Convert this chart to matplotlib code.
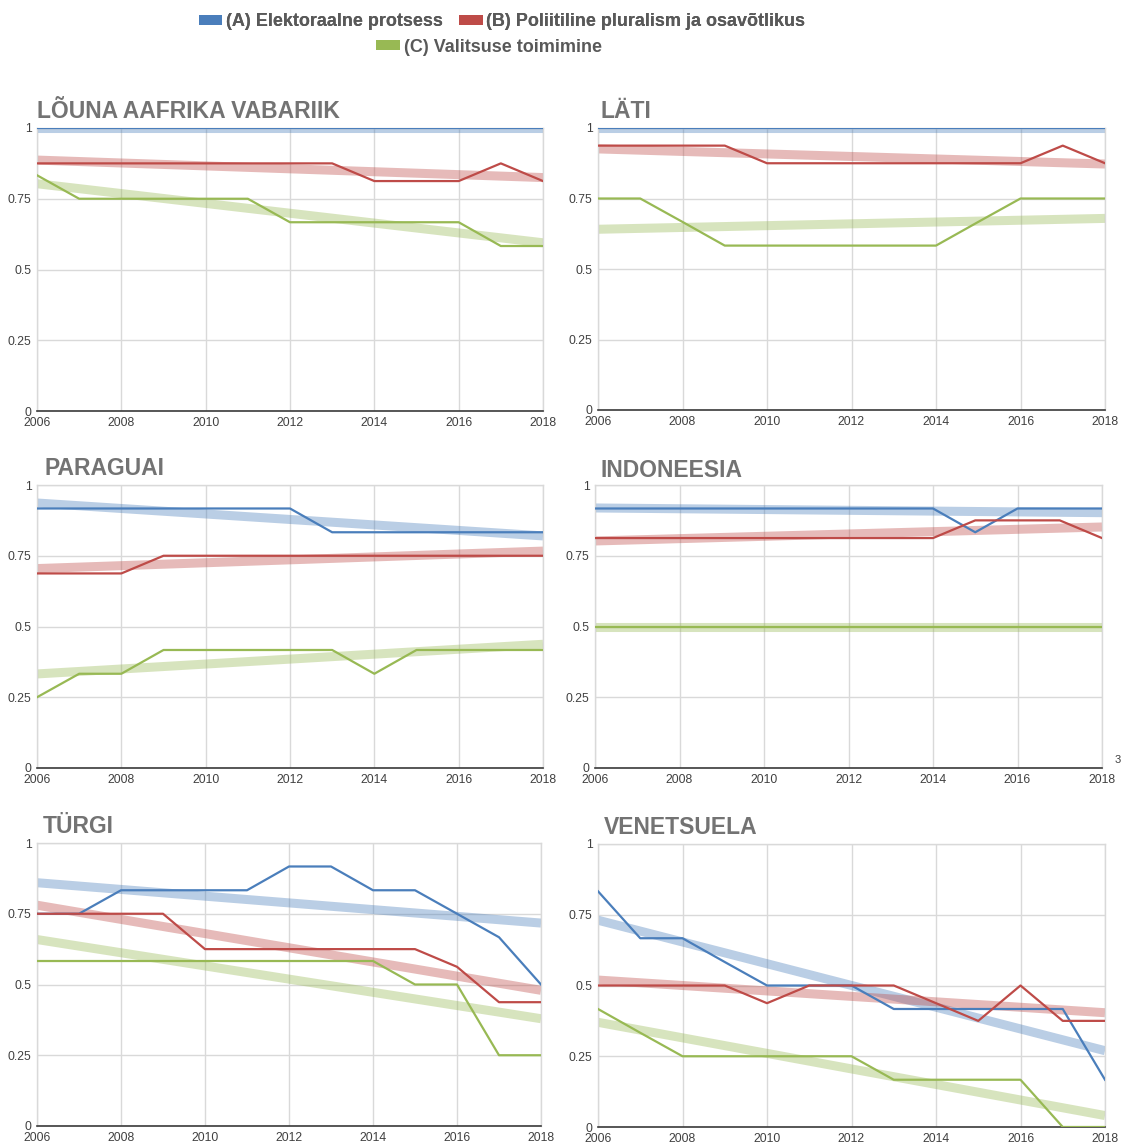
import matplotlib
matplotlib.use("Agg")
import matplotlib.pyplot as plt
from matplotlib.patches import Patch
from matplotlib import font_manager
import numpy as np

# ---------------- data ----------------
years = [2006, 2007, 2008, 2009, 2010, 2011, 2012, 2013, 2014, 2015, 2016, 2017, 2018]
x_ticks = [2006, 2008, 2010, 2012, 2014, 2016, 2018]
y_ticks = [0, 0.25, 0.5, 0.75, 1]
y_tick_labels = ["0", "0.25", "0.5", "0.75", "1"]

series_names = ["(A) Elektoraalne protsess", "(B) Poliitiline pluralism ja osavõtlikus",
                "(C) Valitsuse toimimine"]
countries = ["LÕUNA AAFRIKA VABARIIK", "LÄTI", "PARAGUAI", "INDONEESIA", "TÜRGI", "VENETSUELA"]

za_a = [1, 1, 1, 1, 1, 1, 1, 1, 1, 1, 1, 1, 1]
za_b = [0.875, 0.875, 0.875, 0.875, 0.875, 0.875, 0.875, 0.875, 0.8125, 0.8125, 0.8125, 0.875, 0.8125]
za_c = [0.833, 0.75, 0.75, 0.75, 0.75, 0.75, 0.667, 0.667, 0.667, 0.667, 0.667, 0.583, 0.583]

lv_a = [1, 1, 1, 1, 1, 1, 1, 1, 1, 1, 1, 1, 1]
lv_b = [0.9375, 0.9375, 0.9375, 0.9375, 0.875, 0.875, 0.875, 0.875, 0.875, 0.875, 0.875, 0.9375, 0.875]
lv_c = [0.75, 0.75, 0.667, 0.583, 0.583, 0.583, 0.583, 0.583, 0.583, 0.667, 0.75, 0.75, 0.75]

py_a = [0.917, 0.917, 0.917, 0.917, 0.917, 0.917, 0.917, 0.833, 0.833, 0.833, 0.833, 0.833, 0.833]
py_b = [0.6875, 0.6875, 0.6875, 0.75, 0.75, 0.75, 0.75, 0.75, 0.75, 0.75, 0.75, 0.75, 0.75]
py_c = [0.25, 0.333, 0.333, 0.417, 0.417, 0.417, 0.417, 0.417, 0.333, 0.417, 0.417, 0.417, 0.417]

id_a = [0.917, 0.917, 0.917, 0.917, 0.917, 0.917, 0.917, 0.917, 0.917, 0.833, 0.917, 0.917, 0.917]
id_b = [0.8125, 0.8125, 0.8125, 0.8125, 0.8125, 0.8125, 0.8125, 0.8125, 0.8125, 0.875, 0.875, 0.875, 0.8125]
id_c = [0.5, 0.5, 0.5, 0.5, 0.5, 0.5, 0.5, 0.5, 0.5, 0.5, 0.5, 0.5, 0.5]

tr_a = [0.75, 0.75, 0.833, 0.833, 0.833, 0.833, 0.917, 0.917, 0.833, 0.833, 0.75, 0.667, 0.5]
tr_b = [0.75, 0.75, 0.75, 0.75, 0.625, 0.625, 0.625, 0.625, 0.625, 0.625, 0.5625, 0.4375, 0.4375]
tr_c = [0.583, 0.583, 0.583, 0.583, 0.583, 0.583, 0.583, 0.583, 0.583, 0.5, 0.5, 0.25, 0.25]

ve_a = [0.833, 0.667, 0.667, 0.583, 0.5, 0.5, 0.5, 0.417, 0.417, 0.417, 0.417, 0.417, 0.167]
ve_b = [0.5, 0.5, 0.5, 0.5, 0.4375, 0.5, 0.5, 0.5, 0.4375, 0.375, 0.5, 0.375, 0.375]
ve_c = [0.417, 0.333, 0.25, 0.25, 0.25, 0.25, 0.25, 0.167, 0.167, 0.167, 0.167, 0, 0]

panel_data = [(za_a, za_b, za_c), (lv_a, lv_b, lv_c), (py_a, py_b, py_c),
              (id_a, id_b, id_c), (tr_a, tr_b, tr_c), (ve_a, ve_b, ve_c)]

# ---------------- style ----------------
names = {f.name for f in font_manager.fontManager.ttflist}
fam = [f for f in ["Liberation Sans Narrow", "Liberation Sans", "DejaVu Sans"] if f in names]
plt.rcParams['font.family'] = fam

colors = ["#4a7ebb", "#be4b48", "#98b954"]
grid_col = "#d9d9d9"
tick_col = "#404040"
title_col = "#737373"

W, H = 1127, 1146
fig = plt.figure(figsize=(W / 100, H / 100), dpi=100)
fig.patch.set_facecolor("white")

# pixel boxes: (x0, x1, ytop, ybottom), title (x, baseline)
boxes = [(37, 543, 128, 411), (598, 1105, 128, 410),
         (37, 543, 485, 768), (595, 1102, 485, 768),
         (37, 541, 843, 1126), (598, 1105, 844, 1127)]
title_pos = [(37, 118), (600, 118), (45, 475), (601, 477), (43, 833), (604, 834)]

for i, (box, tp) in enumerate(zip(boxes, title_pos)):
    x0, x1, yt, yb = box
    ax = fig.add_axes([x0 / W, 1 - yb / H, (x1 - x0) / W, (yb - yt) / H])
    yrs = np.array(years, dtype=float)
    for s, col in zip(panel_data[i], colors):
        coef = np.polyfit(yrs, np.array(s, dtype=float), 1)
        ax.plot(yrs, np.polyval(coef, yrs), color=col, alpha=0.38, lw=6.5,
                solid_capstyle="butt", zorder=2)
    for s, col in zip(panel_data[i], colors):
        ax.plot(years, s, color=col, lw=1.6, zorder=3)
    ax.set_xlim(2006, 2018)
    ax.set_ylim(0, 1)
    ax.set_xticks(x_ticks)
    ax.set_xticklabels([str(v) for v in x_ticks])
    ax.set_yticks(y_ticks)
    ax.set_yticklabels(y_tick_labels)
    ax.grid(True, color=grid_col, lw=1.0, zorder=0)
    ax.set_axisbelow(True)
    for sp in ["top", "right", "left"]:
        ax.spines[sp].set_color(grid_col)
        ax.spines[sp].set_linewidth(1.0)
    ax.spines["bottom"].set_color("#3a3a3a")
    ax.spines["bottom"].set_linewidth(1.2)
    ax.tick_params(length=0, labelsize=8.8, labelcolor=tick_col, pad=4)
    fig.text(tp[0] / W, 1 - tp[1] / H, countries[i], fontsize=16.5, fontweight="bold",
             color=title_col, ha="left", va="baseline")

# stray label at right of Indonesia panel
fig.text(1118 / W, 1 - 760 / H, "3", fontsize=8, color=tick_col, ha="center", va="center")

# ---------------- legend ----------------
handles = [Patch(facecolor=c, edgecolor="none") for c in colors]
leg_prop = {"size": 13, "weight": "bold"}
leg1 = fig.legend(handles=handles[:2], labels=series_names[:2], ncol=2, loc="center",
                  bbox_to_anchor=(502 / W, 1 - 22 / H), frameon=False,
                  prop=leg_prop, labelcolor="#595959",
                  handlelength=1.3, handleheight=0.45, handletextpad=0.2,
                  columnspacing=0.9, borderpad=0, borderaxespad=0)
fig.add_artist(leg1)
leg2 = fig.legend(handles=handles[2:], labels=series_names[2:], ncol=1, loc="center",
                  bbox_to_anchor=(489 / W, 1 - 47 / H), frameon=False,
                  prop=leg_prop, labelcolor="#595959",
                  handlelength=1.3, handleheight=0.45, handletextpad=0.2,
                  borderpad=0, borderaxespad=0)

fig.savefig("out.png", dpi=100, facecolor="white")
